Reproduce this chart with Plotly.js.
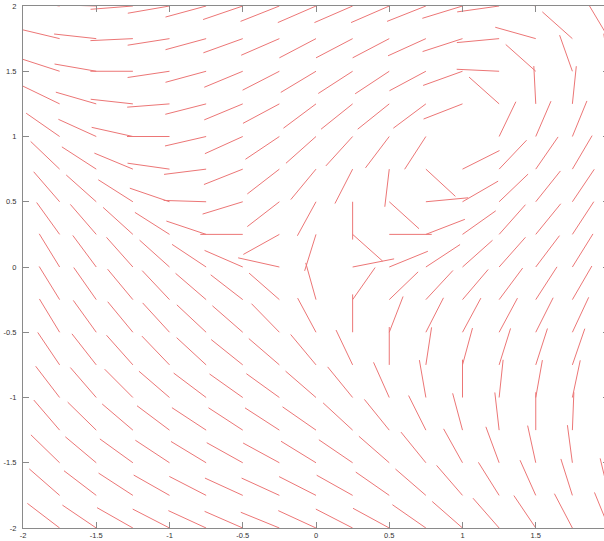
<!DOCTYPE html>
<html>
<head>
<meta charset="utf-8">
<script src="https://cdn.plot.ly/plotly-3.0.1.min.js"></script>
<style>
  html, body { margin: 0; padding: 0; overflow: hidden; background: #fff; }
  #chart { width: 620px; height: 541px; }
</style>
</head>
<body>
<div id="chart"></div>
<script>
// Grid of base points (x = -1.75 .. 2, y = 2 .. -2, step 0.25)
const xGrid = [-1.75, -1.5, -1.25, -1, -0.75, -0.5, -0.25, 0, 0.25, 0.5, 0.75, 1, 1.25, 1.5, 1.75, 2];
const yGrid = [2, 1.75, 1.5, 1.25, 1, 0.75, 0.5, 0.25, 0, -0.25, -0.5, -0.75, -1, -1.25, -1.5, -1.75, -2];

// Direction of each segment in degrees (data space); null = no segment
const dirY2     = [170, 178, 185, 191, 197, 201, 204, 206, 206, 206, 204, 199, 189, 165, 125, 115];
const dirY175   = [165, 173, 183, 190, 197, 202, 206, 210.5, 210.5, 210.5, 207, 200, 186, 162.5, 135, 118];
const dirY15    = [160, 169, 180, 189.5, 197, 205, 210, 214, 216, 216.6, 211, 202, 177, 135, 107.5, 97];
const dirY125   = [151.5, 162, 173, 185, 196, 205, 211, 220, 222, 222, 220, 203.6, 135, 92.6, 84.7, 85];
const dirY1     = [142, 153, 166, 180, 194.5, 207, 217, 225, 231, 236, 240, null, 66.8, 69, 70, 72];
const dirY075   = [133, 144, 155, 171, 188, 204, 221, 233.6, 245.4, 264, 314, 29.4, 49.8, 58.3, 62.3, 66];
const dirY05    = [127.6, 135, 144.5, 159, 178, 199, 221, 244, 270, 314.5, 6, 33, 47, 54.5, 59, 62];
const dirY025   = [122.7, 127.6, 134.5, 144.5, 159.4, 180, 212, 254.5, 315, 0, 23.4, 38.5, 51.7, 54, 59.7, 63];
const dirY0     = [118.7, 123.5, 128.4, 134.8, 143.3, 154, 166, null, 12.4, 24.6, 36.4, 45, 51.7, 56, 61, 64];
const dirYm025  = [118.8, 122, 126.5, 130, 136, 139, 135.5, 104, 58, 47.2, 50.4, 52.8, 56.4, 60, 62.7, 65];
const dirYm05   = [118.4, 122.7, 126.3, 129.2, 133.6, 135.6, 131, 115.6, 90, 71, 65.5, 64.4, 64.4, 65.8, 67.4, 69];
const dirYm075  = [121, 124.9, 128.4, 130.5, 134, 138, 136, 126.6, 113, 90, 82.3, 76.4, 74.4, 74, 73, 73];
const dirYm1    = [124.3, 127.6, 131.6, 136, 139.8, 141.5, 141, 135.8, 126, 111.7, 98.8, 90, 84.6, 81, 79.3, 78];
const dirYm125  = [127.4, 132.3, 136.3, 139.9, 143.6, 143.8, 144, 142, 134, 125.8, 114, 103.4, 95.8, 90, 88, 87];
const dirYm15   = [132.5, 136.7, 141, 143.5, 145.8, 148, 148.6, 145.4, 142.6, 135.6, 125.9, 116.4, 108.2, 101, 96.7, 95];
const dirYm175  = [135.6, 139.4, 143.9, 147.5, 150, 152.8, 152.8, 150.3, 147.8, 142, 135.8, 127.6, 119.2, 111.7, 105.7, 102];
const dirYm2    = [139.4, 142.8, 147.5, 150, 152.7, 153.9, 155.4, 152.7, 150, 148.6, 142, 135.5, 128, 121, 115, 110];

// Tick positions/labels (the x = 2 label falls outside the visible picture)
const xTickVals = [-2, -1.5, -1, -0.5, 0, 0.5, 1, 1.5];
const xTickLabels = ['-2', '-1.5', '-1', '-0.5', '0', '0.5', '1', '1.5'];
const yTickVals = [-2, -1.5, -1, -0.5, 0, 0.5, 1, 1.5, 2];
const yTickLabels = ['-2', '-1.5', '-1', '-0.5', '0', '0.5', '1', '1.5', '2'];

const segLength = 0.29;
const dirRows = [dirY2, dirY175, dirY15, dirY125, dirY1, dirY075, dirY05, dirY025, dirY0,
                 dirYm025, dirYm05, dirYm075, dirYm1, dirYm125, dirYm15, dirYm175, dirYm2];

const segX = [], segY = [];
yGrid.forEach((y, j) => {
  xGrid.forEach((x, i) => {
    const a = dirRows[j][i];
    if (a === null || a === undefined) return;
    const r = a * Math.PI / 180;
    segX.push(x, x + segLength * Math.cos(r), null);
    segY.push(y, y + segLength * Math.sin(r), null);
  });
});

const axisCommon = {
  range: [-2, 2],
  tickmode: 'array',
  ticks: 'inside',
  ticklen: 6,
  tickwidth: 1,
  tickcolor: '#8a8a8a',
  showline: true,
  linecolor: '#8a8a8a',
  linewidth: 1,
  mirror: 'ticks',
  showgrid: false,
  zeroline: false,
  tickfont: { family: 'Liberation Sans, Arial, sans-serif', size: 7.5, color: '#333' }
};

const trace = {
  type: 'scatter',
  mode: 'lines',
  x: segX,
  y: segY,
  line: { color: 'rgb(236,118,118)', width: 1 },
  hoverinfo: 'skip',
  connectgaps: false
};

const layout = {
  width: 620,
  height: 541,
  margin: { l: 23, r: 11, t: 6, b: 13 },
  paper_bgcolor: '#fff',
  plot_bgcolor: '#fff',
  showlegend: false,
  xaxis: Object.assign({}, axisCommon, { tickvals: xTickVals, ticktext: xTickLabels, ticklabelstandoff: 0 }),
  yaxis: Object.assign({}, axisCommon, { tickvals: yTickVals, ticktext: yTickLabels, ticklabelstandoff: 4 })
};

Plotly.newPlot('chart', [trace], layout, { staticPlot: true, displayModeBar: false });
</script>
</body>
</html>
